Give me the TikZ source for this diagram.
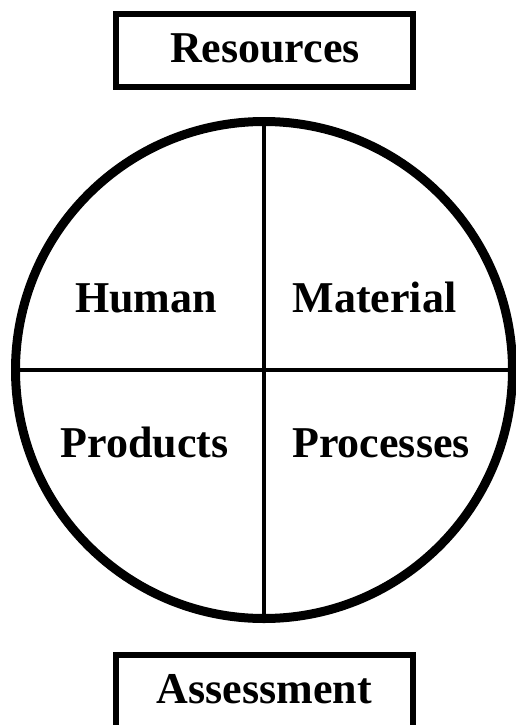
\documentclass[tikz,border=0pt]{standalone}
\usepackage{fontspec}
\setmainfont{Liberation Serif}
\begin{document}
\begin{tikzpicture}[x=1pt,y=-1pt,
  lbl/.style={font=\bfseries\fontsize{44}{44}\selectfont, inner sep=0pt, anchor=base},
  titlebox/.style={draw, line width=6pt, minimum width=297pt, minimum height=73pt, inner sep=0pt},
  divider/.style={line width=4.5pt}]
\useasboundingbox (0,0) rectangle (516,725);
\clip (0,0) rectangle (516,725);
\node[titlebox] (res) at (264.5,50.5) {};
\node[lbl] (restxt) at (265,63) {Resources};
\node[titlebox] (ass) at (264.5,691.5) {};
\node[lbl] (asstxt) at (264.5,703) {Assessment};
\node[draw, circle, line width=9pt, minimum size=497pt, inner sep=0pt] (c) at (264,370) {};
\draw[divider] (c.north) -- (c.south);
\draw[divider] (c.west) -- (c.east);
\node[lbl] (human) at (146,312) {Human};
\node[lbl] (material) at (374.5,312) {Material};
\node[lbl] (products) at (144.5,457) {Products};
\node[lbl] (processes) at (381,457) {Processes};
\end{tikzpicture}
\end{document}
